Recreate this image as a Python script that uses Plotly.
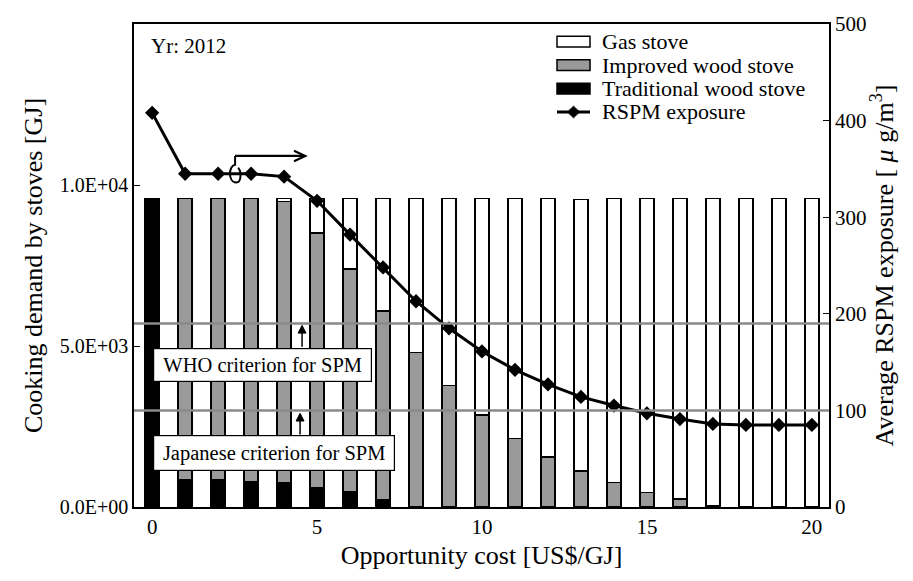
import plotly.graph_objects as go

cost = list(range(21))
traditional = [9560, 850, 850, 790, 760, 610, 460, 210, 0, 0, 0, 0, 0, 0, 0, 0, 0, 0, 0, 0, 0]
improved = [0, 8730, 8730, 8790, 8725, 7900, 6927, 5870, 4800, 3770, 2860, 2130, 1550, 1125, 760, 456, 243, 30, 0, 0, 0]
gas = [0, 0, 0, 0, 95, 1068, 2193, 3500, 4780, 5810, 6720, 7450, 8030, 8425, 8820, 9124, 9337, 9550, 9580, 9580, 9580]
rspm = [408, 345, 345, 345, 342, 317, 282, 248, 213, 185, 161, 142, 127, 114, 105, 97, 91, 86, 85, 85, 85]

left_ticks = [0, 5000, 10000]
left_ticktext = ["0.0E+00", "5.0E+03", "1.0E+04"]
right_ticks = [0, 100, 200, 300, 400, 500]
who_level = 190
japan_level = 100

FONT = "Liberation Serif"
BAR_W = 0.42
OUT = dict(color="black", width=1.5)

fig = go.Figure()
fig.add_trace(go.Bar(x=cost, y=traditional, width=BAR_W, marker=dict(color="black", line=OUT),
                     name="Traditional wood stove", showlegend=False))
fig.add_trace(go.Bar(x=cost, y=improved, width=BAR_W, marker=dict(color="#9a9a9a", line=OUT),
                     name="Improved wood stove", showlegend=False))
fig.add_trace(go.Bar(x=cost, y=gas, width=BAR_W, marker=dict(color="white", line=OUT),
                     name="Gas stove", showlegend=False))
fig.add_trace(go.Scatter(x=cost, y=rspm, yaxis="y2", mode="lines+markers",
                         line=dict(color="black", width=3),
                         marker=dict(symbol="diamond", size=11, color="black"),
                         name="RSPM exposure", showlegend=False))

# criterion lines
for lvl in (who_level, japan_level):
    fig.add_shape(type="line", xref="paper", x0=0, x1=1, yref="y2", y0=lvl, y1=lvl,
                  line=dict(color="#8a8a8a", width=2.5), layer="above")

# criterion boxes
fig.add_annotation(x=3.35, y=147, xref="x", yref="y2", text="WHO criterion for SPM",
                   showarrow=False, font=dict(family=FONT, size=20.5, color="black"),
                   bgcolor="white", bordercolor="black", borderwidth=1.2, borderpad=2,
                   width=213, height=28)
fig.add_annotation(x=3.70, y=56, xref="x", yref="y2", text="Japanese criterion for SPM",
                   showarrow=False, font=dict(family=FONT, size=20.5, color="black"),
                   bgcolor="white", bordercolor="black", borderwidth=1.2, borderpad=2,
                   width=236, height=30)

# small up-arrows (stem + filled head), in data units
for xa, y0, y1 in ((4.545, 166, 188), (4.485, 75, 97)):
    fig.add_shape(type="line", xref="x", yref="y2", x0=xa, x1=xa, y0=y0, y1=y1 - 6,
                  line=dict(color="black", width=1.5), layer="above")
    fig.add_shape(type="path", xref="x", yref="y2",
                  path=f"M {xa-0.12} {y1-8} L {xa} {y1} L {xa+0.12} {y1-8} Z",
                  fillcolor="black", line=dict(color="black", width=1), layer="above")

# right-axis indicator arrow with curl
fig.add_shape(type="line", xref="x", yref="y2", x0=2.515, x1=4.62, y0=363.4, y1=363.4,
              line=dict(color="black", width=2.2), layer="above")
fig.add_shape(type="path", xref="x", yref="y2",
              path="M 4.30 368.8 L 4.64 363.4 L 4.30 358.0",
              line=dict(color="black", width=2.2), layer="above")
fig.add_shape(type="path", xref="x", yref="y2",
              path="M 2.515 363.4 L 2.515 354.3 C 2.303 353.2, 2.303 336.0, 2.545 336.0 "
                   "C 2.727 336.0, 2.697 348.2, 2.606 351.2",
              line=dict(color="black", width=2), layer="above")

# Year label
fig.add_annotation(x=0.022, y=0.955, xref="paper", yref="paper", text="Yr: 2012",
                   showarrow=False, xanchor="left", yanchor="middle",
                   font=dict(family=FONT, size=21, color="black"))

# custom legend
leg_items = [("Gas stove", "white"), ("Improved wood stove", "#9a9a9a"),
             ("Traditional wood stove", "black"), ("RSPM exposure", None)]
px_w, px_h = 695.0, 494.0
bx0 = (557 - 134) / px_w
bx1 = (590 - 134) / px_w
tx = (600 - 134) / px_w
rows_px = [31, 55, 79, 103]
for (label, col), rpx in zip(leg_items, rows_px):
    yc = (507 - rpx) / px_h
    hh = 5.5 / px_h
    if col is not None:
        fig.add_shape(type="rect", xref="paper", yref="paper", x0=bx0, x1=bx1,
                      y0=yc - hh, y1=yc + hh, fillcolor=col, line=dict(color="black", width=1.5))
    else:
        fig.add_shape(type="line", xref="paper", yref="paper", x0=bx0, x1=bx1, y0=yc, y1=yc,
                      line=dict(color="black", width=3))
        xc = (bx0 + bx1) / 2
        dx = 6 / px_w
        dy = 6 / px_h
        fig.add_shape(type="path", xref="paper", yref="paper",
                      path=f"M {xc-dx} {yc} L {xc} {yc+dy} L {xc+dx} {yc} L {xc} {yc-dy} Z",
                      fillcolor="black", line=dict(color="black", width=1))
    fig.add_annotation(x=tx, y=yc, xref="paper", yref="paper", text=label, showarrow=False,
                       xanchor="left", yanchor="middle",
                       font=dict(family=FONT, size=22, color="black"))

fig.update_layout(
    width=913, height=581,
    margin=dict(l=134, r=84, t=13, b=74),
    barmode="stack",
    plot_bgcolor="white", paper_bgcolor="white",
    font=dict(family=FONT, size=22, color="black"),
    xaxis=dict(range=[-0.55, 20.52], tickvals=[0, 5, 10, 15, 20], showgrid=False, zeroline=False,
               showline=True, linecolor="black", linewidth=1.5, mirror=True, ticks="",
               title=dict(text="Opportunity cost [US$/GJ]", standoff=8),
               tickfont=dict(size=21)),
    yaxis=dict(range=[0, 15000], tickvals=left_ticks, ticktext=left_ticktext, showgrid=False,
               zeroline=False, showline=True, linecolor="black", linewidth=1.5,
               ticks="inside", ticklen=6, tickcolor="black",
               title=dict(text="Cooking demand by stoves [GJ]", standoff=10),
               tickfont=dict(size=20)),
    yaxis2=dict(range=[0, 500], tickvals=right_ticks, overlaying="y", side="right",
                showgrid=False, zeroline=False, showline=True, linecolor="black", linewidth=1.5,
                ticks="inside", ticklen=6, tickcolor="black",
                title=dict(text="Average RSPM exposure [ <i>μ</i> g/m<sup>3</sup>]", standoff=8),
                tickfont=dict(size=21)),
)

fig.write_html("out.html")
